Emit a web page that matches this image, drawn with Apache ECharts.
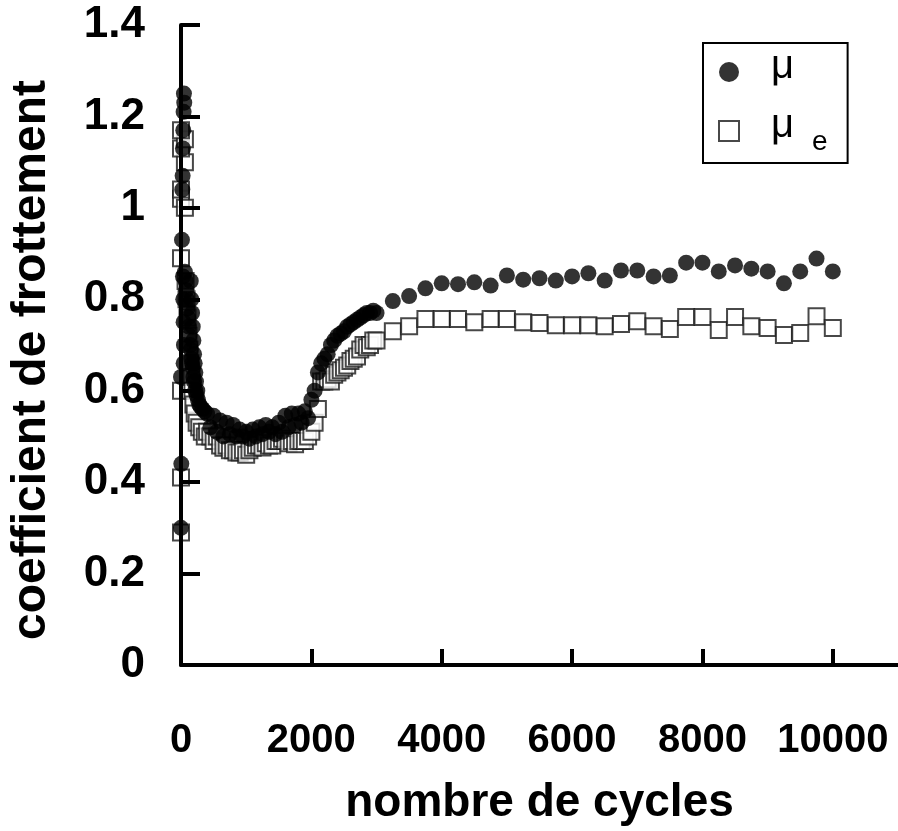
<!DOCTYPE html>
<html>
<head>
<meta charset="utf-8">
<script src="https://cdn.jsdelivr.net/npm/echarts@6/dist/echarts.min.js"></script>
<style>
html,body{margin:0;padding:0;background:#fff;}
#chart{width:898px;height:831px;}
</style>
</head>
<body>
<div id="chart"></div>
<script>
// ---- data ----
var muCycles = [0,5,0,15,20,25,30,35,40,45,50,
  30,35,40,45,40,
  60,70,80,90,100,110,120,130,140,150,160,170,180,190,200,220,240,260,280,300,330,360,
  150,160,170,180,190,200,210,220,230,250,
  400,450,500,550,600,650,700,750,800,850,900,950,1000,1050,1100,1150,1200,1250,1300,1350,1400,1450,1500,1550,1600,1650,1700,1750,1800,1850,1900,1950,
  2000,2050,2100,2150,2200,2250,2300,2350,2400,2450,2500,2550,2600,2650,2700,2750,2800,2850,2900,2950,3000,
  3250,3500,3750,4000,4250,4500,4750,5000,5250,5500,5750,6000,6250,6500,6750,7000,7250,7500,7750,8000,8250,8500,8750,9000,9250,9500,9750,10000];
var muValues = [0.30,0.44,0.63,0.93,1.04,1.07,1.13,1.17,1.21,1.25,1.23,
  0.85,0.80,0.75,0.70,0.66,
  0.86,0.84,0.82,0.80,0.78,0.76,0.74,0.72,0.70,0.69,0.67,0.66,0.65,0.63,0.62,0.60,0.59,0.58,0.57,0.565,0.56,0.555,
  0.84,0.80,0.77,0.74,0.71,0.68,0.66,0.64,0.62,0.60,
  0.55,0.52,0.545,0.51,0.535,0.50,0.53,0.505,0.525,0.50,0.515,0.50,0.51,0.495,0.515,0.50,0.52,0.505,0.525,0.51,0.52,0.505,0.53,0.51,0.545,0.52,0.55,0.525,0.55,0.53,0.555,0.54,
  0.58,0.60,0.64,0.66,0.67,0.68,0.70,0.71,0.72,0.725,0.73,0.74,0.745,0.75,0.755,0.76,0.765,0.77,0.77,0.775,0.77,
  0.796,0.807,0.824,0.835,0.833,0.837,0.830,0.852,0.843,0.846,0.841,0.850,0.857,0.841,0.863,0.863,0.850,0.852,0.880,0.880,0.861,0.874,0.867,0.861,0.835,0.861,0.889,0.861];

var mueCycles = [0,0,0,0,0,60,0,60,0,60,0,
  70,85,100,115,130,145,160,175,190,210,240,280,320,365,
  400,450,500,550,600,650,700,750,800,850,900,950,1000,1050,1100,1150,1200,1250,1300,1350,1400,1450,1500,1550,1600,1650,1700,1750,1800,1850,1900,1950,
  2000,2050,2100,2150,2200,2250,2300,2350,2400,2450,2500,2550,2600,2650,2700,2750,2800,2850,2900,2950,3000,
  3250,3500,3750,4000,4250,4500,4750,5000,5250,5500,5750,6000,6250,6500,6750,7000,7250,7500,7750,8000,8250,8500,8750,9000,9250,9500,9750,10000];
var mueValues = [0.29,0.41,0.60,0.89,1.02,1.00,1.04,1.10,1.13,1.15,1.17,
  0.84,0.80,0.76,0.72,0.69,0.66,0.63,0.60,0.57,0.55,0.53,0.52,0.51,0.50,
  0.51,0.50,0.49,0.50,0.48,0.475,0.48,0.47,0.47,0.465,0.465,0.47,0.46,0.47,0.475,0.48,0.48,0.476,0.485,0.48,0.48,0.49,0.49,0.495,0.49,0.485,0.49,0.483,0.49,0.49,0.49,0.50,
  0.51,0.53,0.56,0.62,0.62,0.625,0.62,0.635,0.64,0.645,0.65,0.655,0.665,0.67,0.675,0.69,0.70,0.695,0.70,0.71,0.71,
  0.730,0.741,0.757,0.757,0.757,0.750,0.757,0.757,0.750,0.748,0.743,0.743,0.743,0.741,0.746,0.752,0.741,0.735,0.761,0.761,0.733,0.761,0.741,0.737,0.722,0.726,0.763,0.737];

var seriesNames = ['μ', 'μe'];
var xTitle = 'nombre de cycles';
var yTitle = 'coefficient de frottement';

function zip(a, b) { return a.map(function (v, i) { return [v, b[i]]; }); }

var chart = echarts.init(document.getElementById('chart'), null, {renderer: 'canvas'});
var SANS = "'Liberation Sans', Arial, sans-serif";

chart.setOption({
  animation: false,
  backgroundColor: '#fff',
  grid: {left: 178, top: 25, width: 723, height: 645, containLabel: false},
  legend: {
    orient: 'vertical',
    left: 703, top: 43,
    padding: [4, 20, 7, 15],
    itemGap: 9,
    itemWidth: 20, itemHeight: 20,
    borderColor: '#000', borderWidth: 2,
    backgroundColor: '#fff',
    data: seriesNames,
    formatter: function (name) { return name === 'μ' ? '{m|μ}' : '{m|μ}{s|e}'; },
    textStyle: {
      rich: {
        m: {fontFamily: SANS, fontSize: 40, lineHeight: 40, color: '#000', padding: [0, 0, 10, 27]},
        s: {fontFamily: SANS, fontSize: 28, lineHeight: 28, color: '#000', padding: [22, 0, 0, 18]}
      }
    }
  },
  xAxis: {
    type: 'value', min: 0, max: 11000, interval: 2000, z: 5,
    name: xTitle, nameLocation: 'middle', nameGap: 115,
    nameTextStyle: {fontFamily: SANS, fontWeight: 'bold', fontSize: 46, color: '#000'},
    axisLine: {lineStyle: {color: '#000', width: 4}},
    axisTick: {inside: true, length: 16, lineStyle: {color: '#000', width: 4}},
    axisLabel: {margin: 56, showMaxLabel: false, fontFamily: SANS, fontWeight: 'bold', fontSize: 40, color: '#000',
      formatter: function (v) { return String(v); }},
    splitLine: {show: false}
  },
  yAxis: {
    type: 'value', min: 0, max: 1.4, interval: 0.2, z: 5,
    name: yTitle, nameLocation: 'middle', nameGap: 125,
    nameTextStyle: {fontFamily: SANS, fontWeight: 'bold', fontSize: 48, color: '#000', padding: [0, 30, 0, 0]},
    axisLine: {lineStyle: {color: '#000', width: 4}},
    axisTick: {inside: true, length: 19, lineStyle: {color: '#000', width: 4}},
    axisLabel: {margin: 36, fontFamily: SANS, fontWeight: 'bold', fontSize: 44, color: '#000',
      formatter: function (v) { return String(Math.round(v * 10) / 10); }},
    splitLine: {show: false}
  },
  series: [
    {
      name: seriesNames[1], type: 'scatter', clip: false, z: 2,
      symbol: 'rect', symbolSize: 16,
      itemStyle: {color: '#fff', borderColor: '#1a1a1a', borderWidth: 2},
      data: zip(mueCycles, mueValues)
    },
    {
      name: seriesNames[0], type: 'scatter', clip: false, z: 3,
      symbol: 'circle', symbolSize: 16,
      itemStyle: {color: '#000'},
      data: zip(muCycles, muValues)
    }
  ]
});
</script>
</body>
</html>
